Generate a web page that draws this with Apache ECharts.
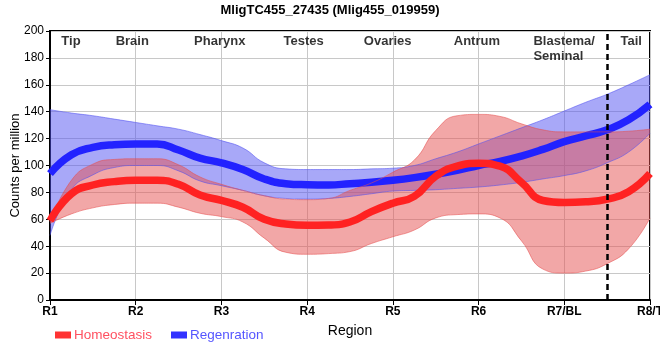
<!DOCTYPE html>
<html><head><meta charset="utf-8">
<script src="https://cdn.jsdelivr.net/npm/echarts@6/dist/echarts.min.js"></script>
<style>html,body{margin:0;padding:0;background:#fff}#c{width:660px;height:360px}</style>
</head><body><div id="c"></div>
<script>
// Region axis (R1..R8/T = 1..8), sampled every quarter region
const xs = [1,1.25,1.5,1.75,2,2.25,2.5,2.75,3,3.25,3.5,3.75,4,4.25,4.5,4.75,5,5.25,5.5,5.75,6,6.25,6.5,6.75,7,7.25,7.5,7.75,8];
const xLabels = ['R1','R2','R3','R4','R5','R6','R7/BL','R8/T'];
const yTicks = [0,20,40,60,80,100,120,140,160,180,200];

// Homeostasis (red)
const homeoMean  = [59,79,85.5,88,89,89,86,78,74,69,60,56.5,55.6,55.8,58,65.7,72,77,92,99.5,101.6,99.5,87.5,74,72.5,73,75,80.5,94];
const homeoLower = [57,64,68.5,71,72,72,69,64.5,62,58,46,35.5,34,34.5,36,42,47,52,61,63.5,64,61,44,23,20,21.5,27,38,61];
const homeoUpper = [58,89,101,104.5,105,105,100.5,91.5,86,81.5,77.5,75,74.6,75.5,81.5,87,95,104,126,137,138,136.5,131,126.5,125,125,125,125.5,127];

// Regeneration (blue)
const regenMean  = [94,108,113.5,115.5,116,116,111.5,105.5,102,97,90,86.5,85.7,85.5,86.5,87.5,89,91,93.5,96.5,100,103,107,112,117.7,122,126.5,134,145.5];
const regenLower = [48,82,93,98.5,100,100,96,88.5,85,81.5,77.5,75.5,75,75.5,77,79,81,81.5,82,83,84,85.5,87.5,90,92.5,96,102,110,124];
const regenUpper = [141.5,139,137,134.5,132,129.5,127,123,118.5,113,102,97.5,97,97,97,97.5,98,100,105,110,116,122,128,134,140.5,147,153,160,167.5];

// Region annotations along the top
const regionNames = ['Tip','Brain','Pharynx','Testes','Ovaries','Antrum','Tail'];
const regionAt    = [1.245,1.96,2.98,3.96,4.94,5.98,7.78];
const blastemaName = 'Blastema/\nSeminal';
const blastemaAt = 6.64;
const boundaryAt = 7.5;

const cats = xs.map(String);
const diff = (u,l) => u.map((v,i)=>+(v-l[i]).toFixed(2));

function band(key, lower, upper, edge, fill){
  return [
    {name:key+'_lo', type:'line', stack:key, data:lower, smooth:true, symbol:'none', silent:true,
     lineStyle:{width:1,color:edge}, z:2},
    {name:key+'_hi', type:'line', stack:key, data:diff(upper,lower), smooth:true, symbol:'none', silent:true,
     lineStyle:{width:1,color:edge}, areaStyle:{color:fill, opacity:1}, z:2}
  ];
}

const font = 'Liberation Sans, Arial, sans-serif';
const chart = echarts.init(document.getElementById('c'), null, {renderer:'canvas'});
const series = [].concat(
  band('regen', regenLower, regenUpper, 'rgba(80,80,240,0.55)', 'rgba(82,82,242,0.5)'),
  [{name:'Regenration', type:'line', data:regenMean, smooth:true, symbol:'none', z:2,
    lineStyle:{width:7.5,color:'#2222ff'}, itemStyle:{color:'#3333ff'}}],
  band('homeo', homeoLower, homeoUpper, 'rgba(229,79,79,0.55)', 'rgba(229,79,79,0.5)'),
  [{name:'Homeostasis', type:'line', data:homeoMean, smooth:true, symbol:'none', z:2,
    lineStyle:{width:7.5,color:'#ff2222'}, itemStyle:{color:'#ff3333'}}],
  [{name:'labels', type:'scatter', xAxisIndex:1, symbolSize:0, silent:true, z:5,
    data: regionNames.map((n,i)=>({value:[regionAt[i],197.5], name:n}))
      .concat([{value:[blastemaAt,197.5], name:blastemaName, label:{align:'left'}}]),
    label:{show:true, position:[0,0], formatter:(p)=>p.name, align:'center', verticalAlign:'top',
      fontFamily:font, fontWeight:'bold', fontSize:13, color:'#000', lineHeight:15},
    markLine:{silent:true, symbol:'none', label:{show:false},
      lineStyle:{color:'#000',width:2.5,type:[6,4]}, data:[{xAxis:boundaryAt}]}}]
);

chart.setOption({
  animation:false,
  backgroundColor:'#fff',
  title:{text:'MligTC455_27435 (Mlig455_019959)', left:'center', top:-1,
    textStyle:{fontFamily:font, fontWeight:'bold', fontSize:13, color:'#000'}},
  grid:{left:50, right:10, top:31, bottom:60, outerBoundsMode:'none', containLabel:false,
    show:true, borderColor:'#000', borderWidth:2, backgroundColor:'transparent'},
  legend:{left:50, top:323, itemWidth:16, itemHeight:7, itemGap:19, icon:'rect',
    itemStyle:{borderWidth:0}, lineStyle:{width:0},
    data:[{name:'Homeostasis', icon:'rect', textStyle:{color:'#ff5060'}},{name:'Regenration', icon:'rect', textStyle:{color:'#5555ff'}}],
    textStyle:{fontFamily:font, fontSize:13.5, padding:[0,0,0,-2]}},
  xAxis:[{type:'category', data:cats, boundaryGap:false, name:'Region', nameLocation:'middle', nameGap:24,
    nameTextStyle:{fontFamily:font, fontSize:14, color:'#000'},
    axisLine:{show:true, lineStyle:{color:'#000',width:2}},
    axisTick:{show:true, length:5, interval:3, lineStyle:{color:'#000'}},
    axisLabel:{fontFamily:font, fontSize:12, fontWeight:'bold', color:'#000', margin:6, interval:3,
      formatter:(v,i)=>xLabels[i/4]||''},
    splitLine:{show:true, interval:3, lineStyle:{color:'#c8c8c8', width:1}}},
   {type:'value', min:1, max:8, show:false, position:'bottom'}],
  yAxis:{type:'value', min:0, max:200, interval:20, name:'Counts per million', nameLocation:'middle', nameGap:28,
    nameMoveOverlap:false,
    nameTextStyle:{fontFamily:font, fontSize:13, color:'#000'},
    axisLine:{show:true, lineStyle:{color:'#000',width:2}},
    axisTick:{show:true, length:4, lineStyle:{color:'#000'}},
    axisLabel:{fontFamily:font, fontSize:12, color:'#000', margin:6, formatter:(v)=>yTicks.includes(v)?String(v):''},
    splitLine:{show:true, lineStyle:{color:'#c8c8c8', width:1}}},
  series:series
});
</script></body></html>
